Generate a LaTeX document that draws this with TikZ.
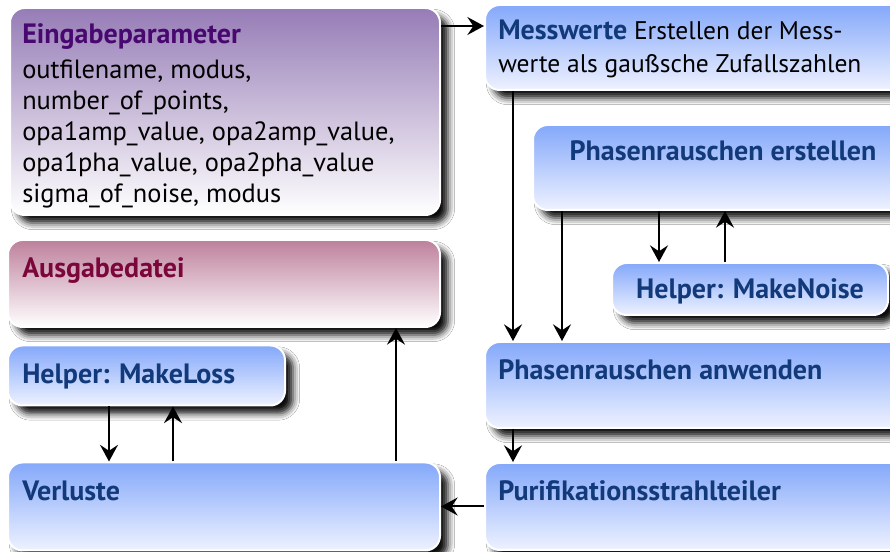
\documentclass[tikz,border=0pt]{standalone}
\usepackage{fontspec}
\setmainfont{PT Sans}
\usetikzlibrary{arrows.meta, calc, shadows.blur}

\definecolor{lilatop}{RGB}{150,124,182}
\definecolor{rosatop}{RGB}{190,128,156}
\definecolor{blautop}{RGB}{132,168,250}
\definecolor{blaubot}{RGB}{238,242,255}
\definecolor{lilatext}{RGB}{72,8,112}
\definecolor{rosatext}{RGB}{122,6,58}
\definecolor{blautext}{RGB}{18,58,122}

\newcommand{\titelfont}{\fontsize{21}{25}\selectfont\bfseries}

\tikzset{
  block/.style={draw=white, line width=1.5pt, rounded corners=11pt,
    blur shadow={shadow xshift=6pt, shadow yshift=-6pt, shadow blur radius=5pt, shadow opacity=95},
    inner sep=0pt},
  blaublock/.style={block, top color=blautop, bottom color=blaubot},
  lilablock/.style={block, top color=lilatop, bottom color=white},
  rosablock/.style={block, top color=rosatop, bottom color=white},
  titel/.style={anchor=base west, inner sep=0pt, font=\titelfont, text=blautext},
  flow/.style={-{Stealth[length=12.5pt,width=13.5pt,inset=4.5pt]}, line width=1.5pt},
}

\begin{document}
\begin{tikzpicture}[x=0.75pt, y=-0.75pt]
\clip (0,0) rectangle (890,552);
\fill[white] (0,0) rectangle (890,552);

%boxes left
\node[lilablock, minimum width=322.5pt, minimum height=155.25pt] (ein) at (225,111.5) {};
\node[rosablock, minimum width=324pt, minimum height=65.25pt] (aus) at (224,283.5) {};
\node[blaublock, minimum width=207.75pt, minimum height=45pt] (loss) at (146.5,375.5) {};
\node[blaublock, minimum width=324pt, minimum height=66pt] (verl) at (224,506.5) {};

%boxes right
\node[blaublock, minimum width=322.5pt, minimum height=63.75pt] (mess) at (700,47.5) {};
\node[blaublock, minimum width=285pt, minimum height=63.75pt] (pe) at (723,167.5) {};
\node[blaublock, minimum width=207pt, minimum height=39pt] (noise) at (750,289) {};
\node[blaublock, minimum width=322.5pt, minimum height=64.5pt] (pa) at (700,385) {};
\node[blaublock, minimum width=322.5pt, minimum height=65.25pt] (pur) at (700,506.5) {};

%texts
\node[anchor=north west, inner sep=0pt, align=left, font=\fontsize{19.8}{23.25}\selectfont]
  at ($(ein.north west)+(13,16)$)
  {{\titelfont\color{lilatext}Eingabeparameter}\\[3pt]
   outfilename, modus,\\
   number\_of\_points,\\
   opa1amp\_value, opa2amp\_value,\\
   opa1pha\_value, opa2pha\_value\\
   sigma\_of\_noise, modus};
\node[titel, text=rosatext] at ($(aus.north west)+(15,38.5)$) {Ausgabedatei};
\node[titel] at ($(loss.north west)+(15,39)$) {Helper: MakeLoss};
\node[titel] at ($(verl.north west)+(15,39)$) {Verluste};
\node[anchor=north west, inner sep=0pt, align=left, font=\fontsize{19.1}{25}\selectfont]
  at ($(mess.north west)+(14,15.5)$)
  {{\titelfont\color{blautext}Messwerte} Erstellen der Mess-\\werte als gaußsche Zufallszahlen};
\node[titel, anchor=base] at ($(pe.north)+(0,37)$) {Phasenrauschen erstellen};
\node[titel, anchor=base] at ($(noise.north)+(0,36.5)$) {Helper: MakeNoise};
\node[titel] at ($(pa.north west)+(14,39)$) {Phasenrauschen anwenden};
\node[titel] at ($(pur.north west)+(14,39)$) {Purifikationsstrahlteiler};

%arrows
\coordinate (e1) at ($(ein.north east)+(0,19)$);
\draw[flow] (e1) -- (e1 -| mess.west);
\draw[flow] ($(mess.south west)+(29,0)$) -- ($(pa.north west)+(29,0)$);
\draw[flow] ($(pe.south west)+(30,0)$) -- ($(pa.north west)+(78,0)$);
\draw[flow] ($(pe.south west)+(127,0)$) -- ($(noise.north west)+(48,0)$);
\draw[flow] ($(noise.north west)+(114,0)$) -- ($(pe.south west)+(193,0)$);
\draw[flow] ($(pa.south west)+(29,0)$) -- ($(pur.north west)+(29,0)$);
\draw[flow] (pur.west) -- (verl.east |- pur.west);
\draw[flow] ($(loss.south west)+(102,0)$) -- ($(verl.north west)+(102,0)$);
\draw[flow] ($(verl.north west)+(166,0)$) -- ($(loss.south west)+(166,0)$);
\draw[flow] ($(verl.north west)+(389,0)$) -- ($(aus.south west)+(389,0)$);
\end{tikzpicture}
\end{document}
